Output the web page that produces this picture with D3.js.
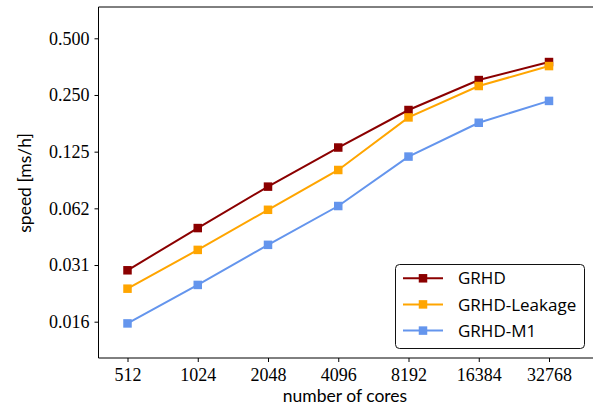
<!DOCTYPE html>
<html>
<head>
<meta charset="utf-8">
<script src="https://cdn.jsdelivr.net/npm/d3@7"></script>
<style>
  html, body { margin: 0; padding: 0; background: #fff; }
  svg { display: block; }
  .tick text { font-family: "Liberation Serif", "DejaVu Serif", serif; font-size: 18px; fill: #000; }
  .tick line { stroke: #000; stroke-width: 1; }
  .lbl { font-family: Lato, "DejaVu Sans", sans-serif; font-size: 17.5px; fill: #000; }
  .leg { font-family: "Open Sans", "DejaVu Sans", sans-serif; font-size: 17px; fill: #000; }
</style>
</head>
<body>
<svg id="chart" width="593" height="407"></svg>
<script>
// Strong-scaling speed for three physics setups
const cores = [512, 1024, 2048, 4096, 8192, 16384, 32768];
const grhd = [0.0293, 0.0491, 0.0815, 0.1315, 0.208, 0.300, 0.374];
const grhdLeakage = [0.0234, 0.0376, 0.0614, 0.0999, 0.190, 0.279, 0.356];
const grhdM1 = [0.0153, 0.0245, 0.0400, 0.0643, 0.1177, 0.178, 0.2325];

const yTickValues = [0.5, 0.25, 0.125, 0.0625, 0.03125, 0.015625];
const yTickLabels = ["0.500", "0.250", "0.125", "0.062", "0.031", "0.016"];
const xTickLabels = ["512", "1024", "2048", "4096", "8192", "16384", "32768"];

const seriesNames = ["GRHD", "GRHD-Leakage", "GRHD-M1"];
const seriesColors = ["#8b0000", "#ffa500", "#6495ed"];
const seriesValues = [grhd, grhdLeakage, grhdM1];

const svg = d3.select("#chart");
svg.append("rect").attr("width", 593).attr("height", 407).attr("fill", "#fff");

const plot = { left: 98.5, top: 7, bottom: 358, right: 640 };

const x = d3.scaleLog().base(2).domain([512, 32768]).range([127.5, 549]);
const y = d3.scaleLog().base(2).domain([2 ** -6, 2 ** -1]).range([321.7, 38.3]);

// axes
const yAxis = d3.axisLeft(y)
  .tickValues(yTickValues)
  .tickFormat((d, i) => yTickLabels[i])
  .tickSize(4).tickPadding(5);
const xAxis = d3.axisBottom(x)
  .tickValues(cores)
  .tickFormat((d, i) => xTickLabels[i])
  .tickSize(4).tickPadding(6);

svg.append("g").attr("transform", `translate(${plot.left},0)`).call(yAxis)
  .call(g => g.select(".domain").remove());
svg.append("g").attr("transform", `translate(0,${plot.bottom})`).call(xAxis)
  .call(g => g.select(".domain").remove());

// spines
const spines = svg.append("g").attr("stroke", "#000").attr("stroke-width", 1).attr("fill", "none");
spines.append("line").attr("x1", plot.left).attr("x2", plot.left).attr("y1", plot.top).attr("y2", plot.bottom);
spines.append("line").attr("x1", plot.left).attr("x2", plot.right).attr("y1", plot.bottom).attr("y2", plot.bottom);
spines.append("line").attr("x1", plot.left).attr("x2", plot.right).attr("y1", plot.top).attr("y2", plot.top);

// series
const line = d3.line().x(d => x(d[0])).y(d => y(d[1]));
const ms = 8.5;
seriesValues.forEach((vals, si) => {
  const pts = cores.map((c, i) => [c, vals[i]]);
  const g = svg.append("g");
  g.append("path").datum(pts).attr("d", line)
    .attr("fill", "none").attr("stroke", seriesColors[si]).attr("stroke-width", 2);
  g.selectAll("rect").data(pts).join("rect")
    .attr("x", d => x(d[0]) - ms / 2).attr("y", d => y(d[1]) - ms / 2)
    .attr("width", ms).attr("height", ms).attr("fill", seriesColors[si]);
});

// legend
const legend = svg.append("g");
legend.append("rect").attr("x", 395.5).attr("y", 264.5).attr("width", 189).attr("height", 84)
  .attr("rx", 4).attr("fill", "#fff").attr("stroke", "#111").attr("stroke-width", 1);
const rowY = [278.3, 304.4, 330.6];
seriesNames.forEach((name, i) => {
  const gy = rowY[i];
  legend.append("line").attr("x1", 403).attr("x2", 443).attr("y1", gy).attr("y2", gy)
    .attr("stroke", seriesColors[i]).attr("stroke-width", 2);
  legend.append("rect").attr("x", 423 - ms / 2).attr("y", gy - ms / 2).attr("width", ms).attr("height", ms)
    .attr("fill", seriesColors[i]);
  legend.append("text").attr("class", "leg").attr("x", 458).attr("y", gy).attr("dy", "0.36em").text(name);
});

// axis titles
svg.append("text").attr("class", "lbl").attr("x", 345).attr("y", 401.5)
  .attr("text-anchor", "middle").text("number of cores");
svg.append("text").attr("class", "lbl").attr("text-anchor", "middle")
  .attr("transform", "translate(30.5,183) rotate(-90)").text("speed [ms/h]");
</script>
</body>
</html>
